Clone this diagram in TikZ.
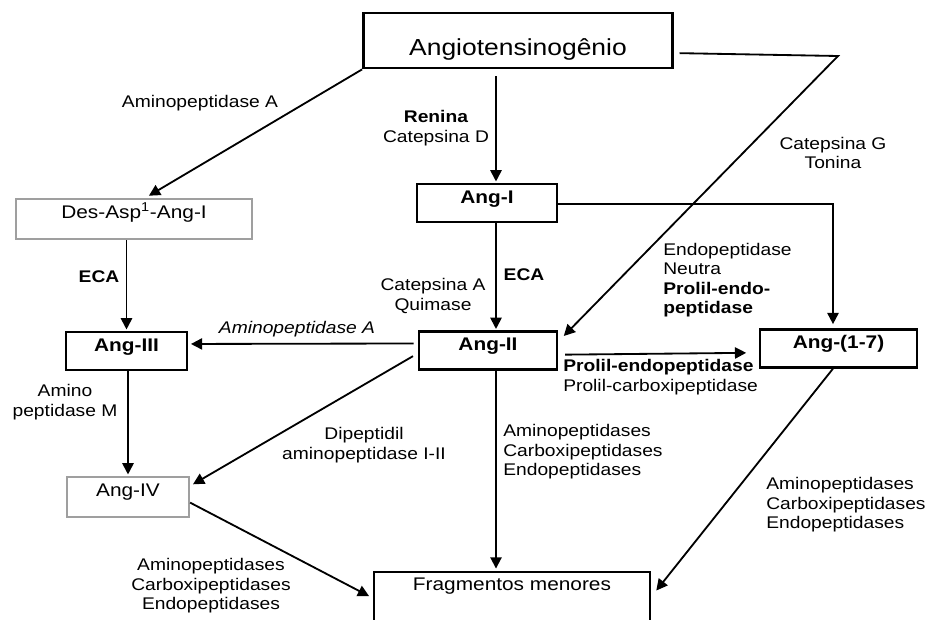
\documentclass[tikz,border=0pt]{standalone}
\usepackage{fontspec}
\setmainfont{Liberation Sans}[FakeStretch=1.14]
\usetikzlibrary{arrows.meta}

\tikzset{
  conn/.style={->,line width=1.3pt},
  pep/.style={draw,line width=1.6pt,inner sep=0pt,
    font=\fontsize{13}{15}\selectfont\bfseries,
    text height=0.475cm,text depth=0.475cm},
  pepgray/.style={draw=gray!75,line width=1.6pt,inner sep=0pt,
    font=\fontsize{13}{15}\selectfont,
    text height=0.475cm,text depth=0.525cm},
  enz/.style={font=\fontsize{12}{13.8}\selectfont,inner sep=0pt},
}

\begin{document}
\begin{tikzpicture}[x=0.025cm,y=-0.025cm,>={Triangle[length=8pt,width=8pt]}]

\useasboundingbox (0,0) rectangle (928,619);
\clip (0,0) rectangle (928,619);

\coordinate (spine) at (496,0);
\coordinate (bendG) at (838,56);
\coordinate (bend17) at (833,204);

% peptides
\node [pep,minimum width=7.725cm,line width=2pt,font=\fontsize{16.5}{18}\selectfont,
  text height=1.05cm,text depth=0.325cm] (angio) at (518,40.5) {Angiotensinogênio};
\node [pep,minimum width=3.5cm] (angI) at (487,203) {Ang-I};
\node [pep,minimum width=3.45cm] (angII) at (488,350.5) {Ang-II};
\node [pep,minimum width=3.025cm] (angIII) at (126.5,351) {Ang-III};
\node [pep,minimum width=3.925cm] (ang17) at (838.5,348.5) {Ang-(1-7)};
\node [pepgray,minimum width=5.9cm] (desasp) at (134,219) {Des-Asp\textsuperscript{1}-Ang-I};
\node [pepgray,minimum width=3.05cm] (angIV) at (128,497) {Ang-IV};
\node [draw,line width=0.9pt,inner sep=0pt,minimum width=6.9cm,
  font=\fontsize{13}{15}\selectfont,text height=0.45cm,text depth=1.25cm] (frag) at (512,606) {Fragmentos menores};

% enzymes
\node [enz] (apA) at (200,103) {Aminopeptidase A};
\node [enz,align=center] (renina) at (436,128) {\textbf{Renina}\\Catepsina D};
\node [enz,align=center] (catG) at (833,153) {Catepsina G\\Tonina};
\node [enz,align=left,anchor=west] (nep) at (663,280) {Endopeptidase\\Neutra\\\textbf{Prolil-endo-}\\\textbf{peptidase}};
\node [enz,align=center] (catA) at (433,296) {Catepsina A\\Quimase};
\node [enz,font=\fontsize{12}{13.8}\selectfont\bfseries] (eca1) at (524,275) {ECA};
\node [enz,font=\fontsize{12}{13.8}\selectfont\bfseries] (eca2) at (99,277) {ECA};
\node [enz,font=\fontsize{12}{13.8}\selectfont\itshape] (apA2) at (297,329) {Aminopeptidase A};
\node [enz,align=center] (apM) at (65,402) {Amino\\peptidase M};
\node [enz,align=center] (dpp) at (364,445) {Dipeptidil\\aminopeptidase I-II};
\node [enz,align=left,anchor=west] (pep) at (563,377) {\textbf{Prolil-endopeptidase}\\Prolil-carboxipeptidase};
\node [enz,align=left,anchor=west] (frmid) at (503,452) {Aminopeptidases\\Carboxipeptidases\\Endopeptidases};
\node [enz,align=left,anchor=west] (frright) at (766,505) {Aminopeptidases\\Carboxipeptidases\\Endopeptidases};
\node [enz,align=center] (frleft) at (211,586) {Aminopeptidases\\Carboxipeptidases\\Endopeptidases};

% reactions
\draw [conn,shorten <=5pt,shorten >=1pt] (angio.south -| spine) -- (angI.north -| spine);
\draw [conn,shorten >=1pt] (angI.south -| spine) -- (angII.north -| spine);
\draw [conn,shorten >=2pt] (angII.south -| spine) -- (frag.north -| spine);
\draw [conn,shorten >=3pt] (angio.south west) -- ([xshift=8]desasp.north);
\draw [conn] ([xshift=4,yshift=-9]angio.east) -- (bendG) -- ([xshift=4,yshift=-4]angII.north east);
\draw [conn,shorten >=3pt] (angI.east |- bend17) -- (bend17) -- (ang17.north -| bend17);
\draw [conn,shorten >=1pt] (desasp.south -| angIII.north) -- (angIII.north);
\draw [conn,shorten <=3pt,shorten >=2pt] ([yshift=5]angII.west) -- ([yshift=5]angIII.east);
\draw [conn,shorten <=4pt] ([yshift=-2]angII.west) -- ([xshift=2,yshift=-6]angIV.north east);
\draw [conn,shorten >=1pt] (angIII.south -| angIV.north) -- (angIV.north);
\draw [conn,shorten <=5pt,shorten >=9pt] ([yshift=-3]angII.east) -- ([yshift=-3]ang17.west);
\draw [conn] ([yshift=-4]angIV.east) -- ([xshift=-3,yshift=7]frag.west);
\draw [conn] (ang17.south -| bend17) -- ([xshift=4,yshift=11]frag.east);

\end{tikzpicture}
\end{document}
